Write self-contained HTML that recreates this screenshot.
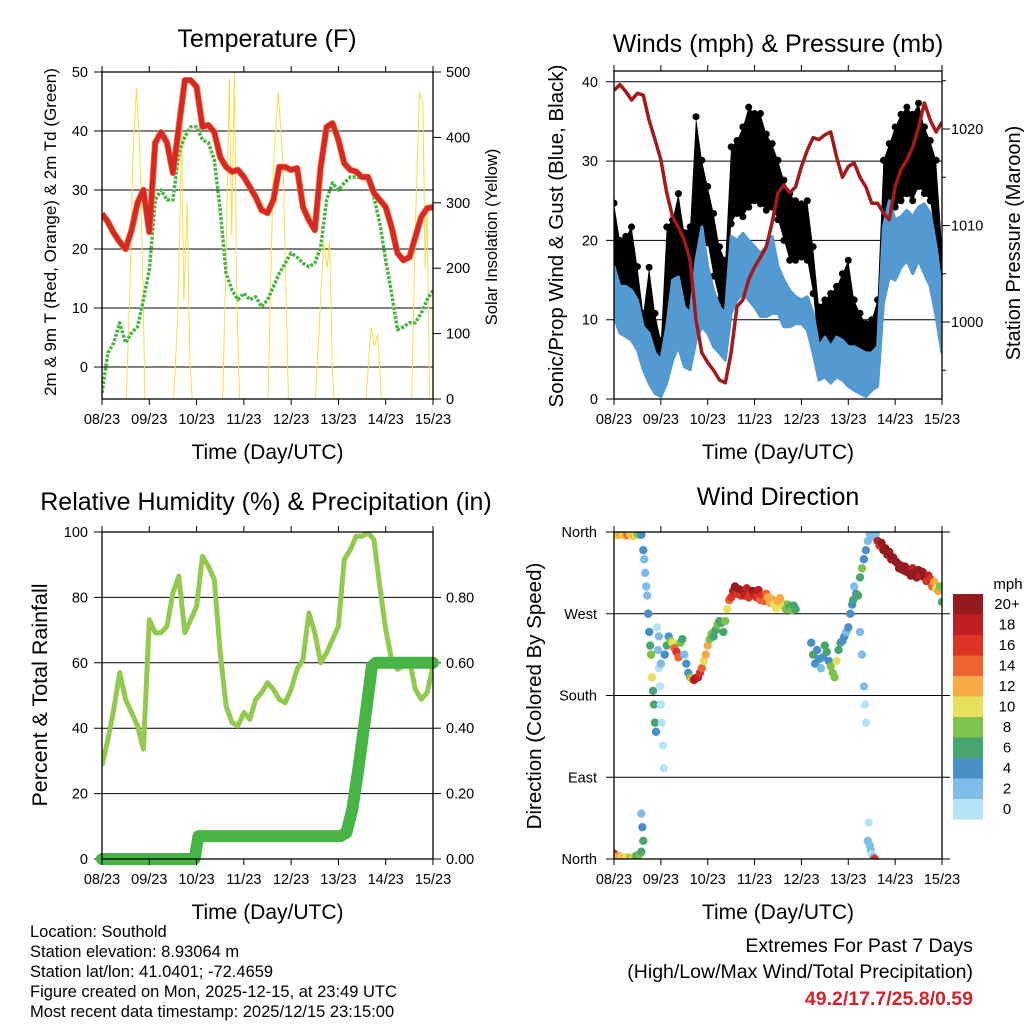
<!DOCTYPE html>
<html><head><meta charset="utf-8">
<style>
html,body{margin:0;padding:0;background:#fff;}
svg{display:block;font-family:"Liberation Sans",Arial,sans-serif;}
</style></head>
<body>
<svg id="fig" width="1024" height="1024" viewBox="0 0 1024 1024">
<defs>
<clipPath id="c1"><rect x="102" y="72" width="331" height="327"/></clipPath>
<clipPath id="c2"><rect x="614" y="71" width="328" height="328"/></clipPath>
<clipPath id="c3"><rect x="102" y="532" width="331" height="327"/></clipPath>
<clipPath id="c4"><rect x="614" y="532" width="328" height="327"/></clipPath>
</defs>
</svg>
<script>
// ---------- data ----------
const dayLabels = ["08/23","09/23","10/23","11/23","12/23","13/23","14/23","15/23"];
const hours3 = [0,3,6,9,12,15,18,21,24,27,30,33,36,39,42,45,48,51,54,57,60,63,66,69,72,75,78,81,84,87,90,93,96,99,102,105,108,111,114,117,120,123,126,129,132,135,138,141,144,147,150,153,156,159,162,165,168];
const tempF = [26,24.6,22.7,21.2,20,23.2,27.8,30,22.9,38,39.8,38,32.9,40.7,48.6,48.6,47.5,40.7,41,39.8,35.6,33.9,33.1,33.4,32.2,30.5,28.8,26.6,26.1,28.3,33.9,33.9,33.4,33.7,27.1,24.9,23.2,33.9,40.7,41.3,38.5,34.5,33.4,33.1,32.2,32.2,29.5,28.3,27.1,23.7,19.3,18.1,18.6,22,25.4,26.9,27.1];
const dewF = [-4.4,2.4,4.1,7.5,4.1,5.8,6.8,11.4,16.4,28.3,30,28.3,28.3,36.3,39,40.7,40.7,38.5,38,35.1,26.6,15.9,13,11.4,12.5,11.4,11.9,10.2,11.4,13.6,15.9,17.6,19.3,18.6,17.6,17,17.6,20.3,28.3,31.2,30,31.2,32.2,32.2,32,32.2,28.8,24.4,18.1,12.5,6.3,6.8,7.5,7.5,9.1,11.4,13];
const solarHours = [0,12.3,14,15.8,17.5,19.2,20.6,21.8,36.3,38.4,39.8,40.3,41.5,43.2,44.6,45.8,61.2,62.9,64.6,65.8,67.2,68.4,69.8,84.3,86.9,89.5,92,94.6,108.3,110.9,112.6,114.3,115.5,116.9,117.8,134,136.6,138.3,140,141.8,157.2,158.9,161.1,162.9,164,164.9,166.3,168];
const solarW = [0,0,150,380,475,380,200,0,0,120,300,440,150,300,60,0,0,200,490,250,500,150,0,0,350,470,350,0,0,150,240,200,240,50,0,0,110,80,100,0,0,250,470,450,200,300,0,0];
const sustLo = [10.4,8.3,7.9,7.4,6.2,3.7,2,0.7,0.3,2,4.9,6.6,4.1,3.7,7.4,9.1,8.3,6.6,5.8,4.9,10.8,12.5,13.3,12.5,11.6,10.4,10.4,10.8,10.8,9.1,9.1,9.5,9.5,8.7,5.8,2.4,2.8,2,2.8,2.4,1.6,1.1,0.7,0.3,1.1,1.6,12.1,15.4,15,16.6,17.5,15.8,17.5,15.8,14.2,10.4,5.8];
const sustHi = [16.7,14.2,14.2,13.7,12.5,9.1,8.3,5.8,4.9,9.1,15,15.4,11.6,10.8,17.5,21.7,16.7,13.7,11.6,10.8,20.5,20,20.9,20,19.2,18.4,19.2,20.5,16.7,15,13.7,12.9,12.5,12.9,10.8,6.6,7.8,6.6,7.8,7.4,6.6,6.6,6.2,5.8,5.8,6.6,21.7,25,22.6,23,23.8,23,24.2,24.6,23.4,19.2,13.3];
const gustLo = [14.2,12.5,13.3,14.2,10.8,5.8,4.9,2.8,2.4,5.8,12.5,15,11.6,10,15.4,20,19.7,15.5,12.5,9.1,22.1,23.4,23,24.2,25,24.6,23.8,24.2,22.6,20,17.5,17.5,17.9,17.5,13.3,5.8,4.9,4.9,5.8,6.2,6.6,4.9,4.1,3.2,3.2,4.9,19.2,22.6,24.2,25,25.9,25,26.8,25.9,25,19.2,11.6];
const gustHi = [24.7,20,20.5,21.7,16.7,10.8,16.6,10.8,7.4,21.7,22.6,25.9,21,21.7,35.6,30.1,26.8,23.4,19.2,17.5,31.8,32.6,34.3,36.8,36,36,33.4,32.2,30.1,27.6,25.9,25,24.6,25,19.2,11.6,12.5,13.3,14.2,15.8,17.5,12.5,10.8,9.5,10,12.5,30.1,32.2,34.3,35.9,36.8,35.9,37.3,34.3,32.6,30.1,19.2];
const pressMb = [1024,1024.6,1023.9,1023,1023.7,1023.5,1020.9,1018.9,1016.8,1013.4,1010.9,1009.8,1008.5,1006.4,1000.2,996.8,995.8,995,994,993.7,996.8,1001.6,1002.3,1004.4,1005.7,1006.7,1007.8,1010.3,1013.4,1014.2,1013.4,1014,1016.1,1017.8,1019.1,1018.9,1019.4,1019.7,1017.1,1015,1016.1,1016.5,1015,1014,1012.3,1012.3,1011.3,1010.6,1014,1015.8,1016.8,1018.1,1020.2,1022.7,1020.9,1019.7,1020.7];
const rhPct = [28.5,36.6,45.8,57,48.8,44.8,40.7,33.6,73.2,69.2,69.2,71.2,81.4,86.5,69.2,73.2,77.3,92.6,89.5,85.5,63.1,46.8,41.7,40.7,44.8,42.7,48.8,50.9,53.9,51.9,48.8,47.8,51.9,58,61,75.3,69.2,60,63.1,67.1,71.2,91.6,94.6,98.7,98.7,99.7,97.7,83.4,70.2,61,58,59,61,51.9,48.8,50.9,59];
const precipHours = [0,47,49,121,124,127,130,134,137,139,168];
const precipIn = [0,0,0.07,0.07,0.08,0.15,0.27,0.45,0.59,0.6,0.6];
const dirHours = [0,1,2,3,4,5,6,7,8,9,10,11,12,13, 0,1,2,3,4,5,6,7,8,9,10,11,12,13,14, 14,15,15.5,16,16.5,17,17.5,18,18.5,19,19.5,20,20.5,21,21.5,14,14.5,15, 22,22.5,23,23.5,24,24.5,25,25.5,23,24, 26,27,28,29,30,31,32,33,34,35,36,37,38,39,40,41,42,43,44,45,46,47,48,49,50,51,52,53,54,55,56,57,58,59,60,61,62,63,64,65,66,67,68,69,70,71,72,73,74,75,76,77,78,79,80,81,82,83,84,85,86,87,88,89,90,91,92,93, 101,102,103,104,105,106,107,108,109,110,111,112,113,114,115,116,117,118,119,120, 121,122,122.5,123,124,125,126,127,128,129,130,131,132,126,127,128,128.5,129, 130,131,131.5,132,133,133.5,130.5, 134,135,136,137,138,139,140,141,142,143,144,145,146,147,148,149,150,151,152,153,154,155,156,157,158,159,160,161,162,163,164,165,166,167,168];
const dirDeg = [357,358,356,357,358,357,356,357,358,357,356,357,358,357, 6,3,2,3,2,1,2,2,1,1,2,3,4,5,8, 357,340,330,315,300,290,270,250,235,225,200,185,170,150,140,50,35,20, 255,230,210,190,170,150,125,100,245,215, 225,235,245,240,238,232,228,222,238,242,225,215,205,200,198,197,199,200,205,210,218,225,235,242,248,245,252,258,262,260,250,262,275,285,288,295,300,292,297,290,295,290,298,288,292,295,290,288,296,285,290,284,292,288,282,286,280,276,284,287,282,278,275,280,277,274,279,275, 238,225,215,230,220,210,222,235,228,218,212,205,200,218,230,238,240,245,250,255, 270,280,285,300,292,290,310,320,330,340,350,358,355,250,225,190,170,150, 20,15,10,5,2,0,40, 358,350,345,348,340,342,335,338,330,332,328,326,320,323,318,322,316,318,312,320,315,310,318,312,316,310,306,312,308,300,305,298,295,300,283];
const dirSpd = [11,12,11,13,12,11,12,14,12,11,12,10,9,8, 16,14,12,12,11,12,11,10,12,9,10,8,7,8,6, 4,4,3,2,3,2,4,4,6,8,10,7,6,7,4,3,5,6, 1,2,1,0,1,1,0,1,3,2, 4,7,4,8,10,14,17,15,9,7,3,4,5,8,12,19,20,18,17,14,11,12,13,9,8,7,6,8,6,7,6,8,10,14,16,18,20,17,20,16,20,18,19,16,17,20,18,16,19,15,17,14,14,12,12,13,11,10,12,13,12,11,9,9,7,8,6,7, 5,6,4,5,4,3,5,7,6,4,8,8,9,10,7,6,5,4,3,4, 4,5,7,3,4,6,7,8,5,4,3,2,3,2,2,2,1,0, 2,2,2,1,3,16,1, 3,18,16,20,20,20,20,20,20,20,20,20,20,20,20,20,20,20,20,19,20,20,20,18,20,20,17,18,16,14,13,11,12,9,6];
const cbarLabels = ["20+","18","16","14","12","10","8","6","4","2","0"];
const cbarColors = ["#951a1d","#be1e24","#dd3327","#ee6330","#f6a945","#e6e15b","#7dc24b","#47a670","#4a90c8","#7fbde6","#b5e3f8"];

// ---------- helpers ----------
const NS="http://www.w3.org/2000/svg";
const svg=document.getElementById('fig');
function mk(tag,attrs,parent,txt){const e=document.createElementNS(NS,tag);for(const k in attrs)e.setAttribute(k,attrs[k]);if(txt!==undefined)e.textContent=txt;(parent||svg).appendChild(e);return e;}
function pts(xs,ys,fx,fy){return xs.map((h,i)=>fx(h).toFixed(1)+","+fy(ys[i]).toFixed(1)).join(" ");}
const xA=h=>102+h*331/168;
const xB=h=>614+h*328/168;
function spdColor(s){let idx=Math.min(10,Math.floor(s/2));return cbarColors[10-idx];}

function frame(x0,y0,x1,y1,name){
  const g=mk('g',{});
  
  
  mk('rect',{x:x0,y:y0,width:x1-x0,height:y1-y0,fill:'none',stroke:'#000','stroke-width':1.3},g);
  return g;
}
function xTicks(fx,y0,y1,name){
  const g=mk('g',{});
  
  
  dayLabels.forEach((d,i)=>{const x=fx(i*24);
    mk('line',{x1:x,x2:x,y1:y1,y2:y1+6,stroke:'#000','stroke-width':1},g);
    mk('line',{x1:x,x2:x,y1:y0,y2:y0-6,stroke:'#000','stroke-width':1},g);
    const t=mk('text',{x:x,y:y1+25,'font-size':14.5,'text-anchor':'middle'},g,d);
    
    
  });
  const t=mk('text',{x:(fx(0)+fx(168))/2,y:y1+60,'font-size':21,'text-anchor':'middle'},g,'Time (Day/UTC)');
  
  
}
function hgrid(vals,fy,x0,x1,labels,lx,anchor,name){
  const g=mk('g',{});
  
  
  vals.forEach((v,i)=>{const y=fy(v);
    if(labels){const t=mk('text',{x:lx,y:y+5,'font-size':14.5,'text-anchor':anchor},g,labels[i]);
      
      }
    if(x0!==null){mk('line',{x1:x0,x2:x1,y1:y,y2:y,stroke:'#000','stroke-width':1},g);}
  });
  return g;
}
function title(x,y,txt,size,name,rot){
  const a={x:x,y:y,'font-size':size,'text-anchor':'middle'};
  if(rot)a.transform='rotate(-90 '+x+' '+y+')';
  const t=mk('text',a,svg,txt);
  
  
}

// ---------- Panel 1: Temperature ----------
const y1L=v=>367-v*5.9, y1R=s=>399-s*0.654;
title(267,47,'Temperature (F)',25,'temperature-title');
hgrid([50,40,30,20,10,0],y1L,94,433,['50','40','30','20','10','0'],88,'end','temperature-gridlines');
hgrid([500,400,300,200,100,0],y1R,433,441,['500','400','300','200','100','0'],446,'start','solar-right-axis');
{const g=mk('g',{'clip-path':'url(#c1)'});
 
 
 const s=mk('polyline',{points:pts(solarHours,solarW,xA,y1R),fill:'none',stroke:'#f7dd4a','stroke-width':1},g);
 
 
 const d=mk('polyline',{points:pts(hours3,dewF,xA,y1L),fill:'none',stroke:'#4bb344','stroke-width':3.5,'stroke-dasharray':'3 1.5','stroke-linejoin':'round'},g);
 
 
 const o=mk('polyline',{points:pts(hours3,tempF,xA,y1L),fill:'none',stroke:'#f07a2c','stroke-width':6.5,'stroke-linejoin':'round'},g);
 
 
 const r=mk('polyline',{points:pts(hours3,tempF,xA,y1L),fill:'none',stroke:'#d62828','stroke-width':5,'stroke-linejoin':'round'},g);
 
 }
frame(102,72,433,399,'temperature');
xTicks(xA,72,399,'temperature');
title(56,232,'2m & 9m T (Red, Orange) & 2m Td (Green)',17,'temperature-y-axis-title',true);
title(497,237,'Solar Insolation (Yellow)',16.5,'solar-y-axis-title',true);

// ---------- Panel 2: Winds & Pressure ----------
const y2L=v=>399-v*7.93, y2R=p=>322-(p-1000)*9.65;
title(778,52,'Winds (mph) & Pressure (mb)',25,'winds-title');
hgrid([40,30,20,10,0],y2L,606,942,['40','30','20','10','0'],598,'end','wind-gridlines');
hgrid([1020,1010,1000],y2R,null,null,['1020','1010','1000'],951,'start','pressure-right-axis');
{const g=mk('g',{'clip-path':'url(#c2)'});
 
 
 const gb=hours3.map((h,i)=>xB(h).toFixed(1)+','+y2L(gustHi[i]).toFixed(1)).concat(hours3.map((h,i)=>xB(h).toFixed(1)+','+y2L(gustLo[i]).toFixed(1)).reverse()).join(' ');
 const gp=mk('polygon',{points:gb,fill:'#000'},g);
 
 
 hours3.forEach((h,i)=>{[gustHi[i],gustLo[i]].forEach(v=>{
   const c=mk('circle',{cx:xB(h),cy:y2L(v),r:3.5,fill:'#000'},g);
   
   });});
 const sb=hours3.map((h,i)=>xB(h).toFixed(1)+','+y2L(sustHi[i]).toFixed(1)).concat(hours3.map((h,i)=>xB(h).toFixed(1)+','+y2L(sustLo[i]).toFixed(1)).reverse()).join(' ');
 const sp=mk('polygon',{points:sb,fill:'#5399d2',stroke:'#5399d2','stroke-width':3,'stroke-linejoin':'round'},g);
 
 
 const p=mk('polyline',{points:pts(hours3,pressMb,xB,y2R),fill:'none',stroke:'#a31a1d','stroke-width':3.5,'stroke-linejoin':'round'},g);
 
 }
frame(614,71,942,399,'winds');
{const g=mk('g',{});[1025,1020,1015,1010,1005,1000,995].forEach(v=>{mk('line',{x1:942,x2:v%10==0?950:946,y1:y2R(v),y2:y2R(v),stroke:'#000'},g);});}
xTicks(xB,71,399,'winds');
title(563,236,'Sonic/Prop Wind & Gust (Blue, Black)',20.5,'wind-y-axis-title',true);
title(1020,243,'Station Pressure (Maroon)',20,'pressure-y-axis-title',true);

// ---------- Panel 3: RH & Precip ----------
const y3L=v=>859-v*3.27, y3R=p=>859-p*327;
title(266,510,'Relative Humidity (%) & Precipitation (in)',25,'humidity-title');
hgrid([100,80,60,40,20,0],y3L,94,433,['100','80','60','40','20','0'],88,'end','humidity-gridlines');
hgrid([0.8,0.6,0.4,0.2,0],y3R,433,441,['0.80','0.60','0.40','0.20','0.00'],446,'start','precip-right-axis');
{const g=mk('g',{'clip-path':'url(#c3)'});
 
 
 const r=mk('polyline',{points:pts(hours3,rhPct,xA,y3L),fill:'none',stroke:'#93c94e','stroke-width':5,'stroke-linejoin':'round'},g);
 
 }
{const p=mk('polyline',{points:pts(precipHours,precipIn,xA,y3R),fill:'none',stroke:'#48b446','stroke-width':12,'stroke-linejoin':'round','stroke-linecap':'round'});
 
 }
frame(102,532,433,859,'humidity');
xTicks(xA,532,859,'humidity');
title(47,695,'Percent & Total Rainfall',21.5,'humidity-y-axis-title',true);

// ---------- Panel 4: Wind Direction ----------
const y4=d=>859-d/360*327;
title(778,505,'Wind Direction',25,'wind-direction-title');
hgrid([360,270,180,90,0],y4,606,950,['North','West','South','East','North'],597,'end','direction-gridlines');
{const g=mk('g',{'clip-path':'url(#c4)'});
 
 
 dirHours.forEach((h,i)=>{
   const c=mk('circle',{cx:xB(h),cy:y4(dirDeg[i]),r:4.2,fill:spdColor(dirSpd[i])},g);
   
   });}
frame(614,532,942,859,'wind-direction');
xTicks(xB,532,859,'wind-direction');
title(541,696,'Direction (Colored By Speed)',20.5,'direction-y-axis-title',true);
{const g=mk('g',{});
 
 
 const t=mk('text',{x:1008,y:589,'font-size':15,'text-anchor':'middle'},g,'mph');
 
 
 cbarLabels.forEach((lab,i)=>{const y=594+i*20.5;
   const r=mk('rect',{x:953,y:y,width:30,height:20.6,fill:cbarColors[i]},g);
   
   
   const l=mk('text',{x:1007,y:y+15,'font-size':15,'text-anchor':'middle'},g,lab);
   
   });}

// ---------- footer text ----------
{const g=mk('g',{});
 
 
 ['Location: Southold','Station elevation: 8.93064 m','Station lat/lon: 41.0401; -72.4659','Figure created on Mon, 2025-12-15, at 23:49 UTC','Most recent data timestamp: 2025/12/15 23:15:00'].forEach((s,i)=>{
   mk('text',{x:30,y:937+i*20,'font-size':16.5},g,s);});}
{const g=mk('g',{});
 
 
 mk('text',{x:973,y:952,'font-size':19.5,'text-anchor':'end'},g,'Extremes For Past 7 Days');
 mk('text',{x:973,y:978,'font-size':19.5,'text-anchor':'end'},g,'(High/Low/Max Wind/Total Precipitation)');
 mk('text',{x:973,y:1005,'font-size':19.5,'font-weight':'bold','fill':'#d2232a','text-anchor':'end'},g,'49.2/17.7/25.8/0.59');}
</script>
</body></html>
